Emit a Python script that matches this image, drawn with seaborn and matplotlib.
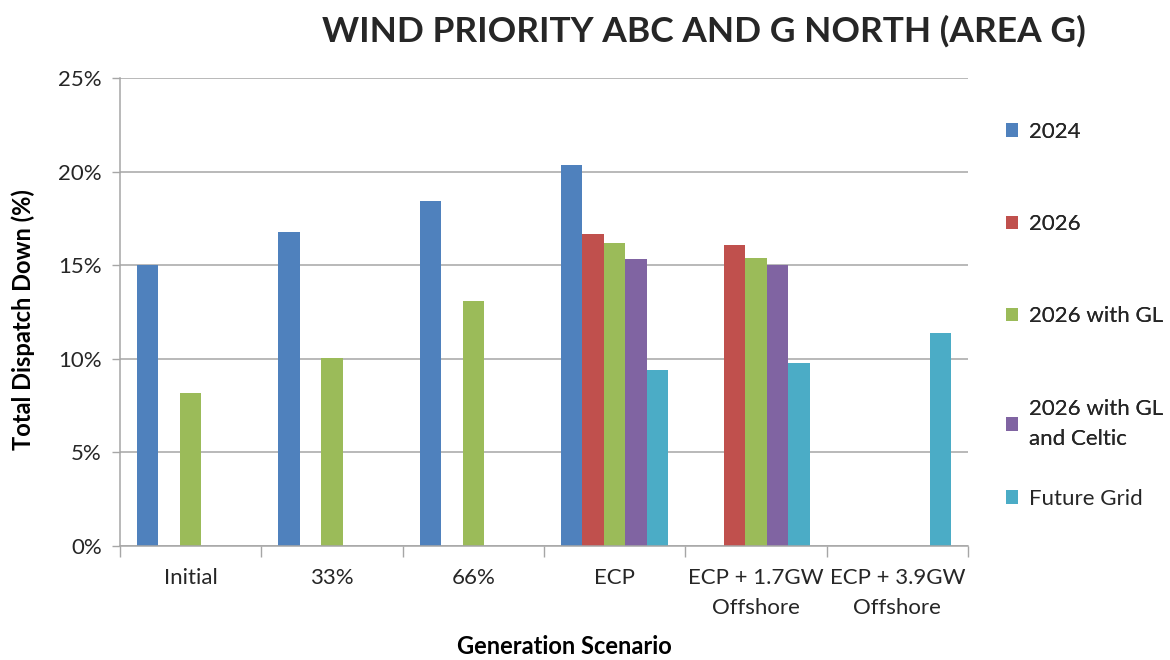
import matplotlib
matplotlib.use("Agg")
import matplotlib.pyplot as plt
import numpy as np
import pandas as pd
import seaborn as sns
from matplotlib.ticker import FuncFormatter, FixedLocator

SCENARIOS = ["Initial", "33%", "66%", "ECP", "ECP + 1.7GW\nOffshore", "ECP + 3.9GW\nOffshore"]
SERIES = ["2024", "2026", "2026 with GL", "2026 with GL\nand Celtic", "Future Grid"]
COLORS = ["#4F81BD", "#C0504D", "#9BBB59", "#8064A2", "#4BACC6"]

# values in percent, NaN where the series has no bar
V_2024 = [15.0, 16.77, 18.42, 20.36, np.nan, np.nan]
V_2026 = [np.nan, np.nan, np.nan, 16.66, 16.07, np.nan]
V_2026_GL = [8.18, 10.02, 13.08, 16.21, 15.41, np.nan]
V_2026_GL_CELTIC = [np.nan, np.nan, np.nan, 15.35, 15.0, np.nan]
V_FUTURE = [np.nan, np.nan, np.nan, 9.38, 9.75, 11.39]

Y_TICKS = [0, 5, 10, 15, 20, 25]


def build_frame():
    rows = []
    for name, vals in zip(SERIES, [V_2024, V_2026, V_2026_GL, V_2026_GL_CELTIC, V_FUTURE]):
        for scen, v in zip(SCENARIOS, vals):
            rows.append({"scenario": scen, "series": name, "value": v})
    return pd.DataFrame(rows)


def add_legend(fig, handles, labels, top_px):
    leg = fig.legend(
        handles, labels, loc="upper left", bbox_to_anchor=(997 / 1170, 1 - top_px / 660),
        frameon=False, fontsize=16, handlelength=0.55, handleheight=0.55,
        handletextpad=0.5, labelspacing=3.25, borderaxespad=0,
    )
    for t in leg.get_texts():
        t.set_color("#262626")
        t.set_linespacing(1.65)
    return leg


def main():
    df = build_frame()

    sns.set_theme(style="white")
    plt.rcParams["font.family"] = ["Lato", "DejaVu Sans"]

    fig = plt.figure(figsize=(11.7, 6.6), dpi=100)
    ax = fig.add_axes([120 / 1170, 1 - 546 / 660, 848 / 1170, 468 / 660])

    sns.barplot(
        data=df, x="scenario", y="value", hue="series",
        order=SCENARIOS, hue_order=SERIES, palette=COLORS,
        width=0.76, dodge=True, ax=ax, legend=True, linewidth=0,
        saturation=1,
    )

    ax.set_ylim(0, 25)
    ax.set_xlim(-0.5, len(SCENARIOS) - 0.5)
    ax.yaxis.set_major_locator(FixedLocator(Y_TICKS))
    ax.yaxis.set_major_formatter(FuncFormatter(lambda v, _: f"{v:.0f}%"))
    ax.yaxis.grid(True, color="#A6A6A6", linewidth=1.1)
    ax.set_axisbelow(True)

    # category boundaries get the tick marks, labels sit at the centres
    ax.set_xticks(np.arange(-0.5, len(SCENARIOS), 1.0))
    ax.set_xticklabels([])
    ax.set_xticks(np.arange(len(SCENARIOS)), minor=True)
    ax.set_xticklabels(SCENARIOS, minor=True, fontsize=16, color="#262626", linespacing=1.6)
    ax.tick_params(axis="x", which="major", length=8, width=1, color="#A6A6A6", direction="out", bottom=True)
    ax.tick_params(axis="x", which="minor", length=0, pad=16)
    ax.tick_params(axis="y", length=6, width=1, color="#A6A6A6", direction="out", left=True,
                   labelsize=16, labelcolor="#262626", pad=7)

    for side in ["top", "right"]:
        ax.spines[side].set_visible(False)
    for side in ["left", "bottom"]:
        ax.spines[side].set_color("#A6A6A6")
        ax.spines[side].set_linewidth(1.1)

    ax.set_xlabel("Generation Scenario", fontsize=17, fontweight="bold", color="black")
    ax.xaxis.set_label_coords(0.524, -0.19)
    ax.set_ylabel("Total Dispatch Down (%)", fontsize=17, fontweight="bold", color="black")
    ax.yaxis.set_label_coords(-0.1, 0.483)

    fig.text(0.602, 0.952, "WIND PRIORITY ABC AND G NORTH (AREA G)",
             ha="center", va="center", fontsize=25.5, fontweight="bold")

    # Excel spaces the last entry tighter, so it gets its own legend block
    handles, labels = ax.get_legend_handles_labels()
    ax.get_legend().remove()
    first = add_legend(fig, handles[:4], labels[:4], 113)
    fig.add_artist(first)
    add_legend(fig, handles[4:], labels[4:], 480)

    fig.savefig("out.png", dpi=100)
    plt.close(fig)


if __name__ == "__main__":
    main()
